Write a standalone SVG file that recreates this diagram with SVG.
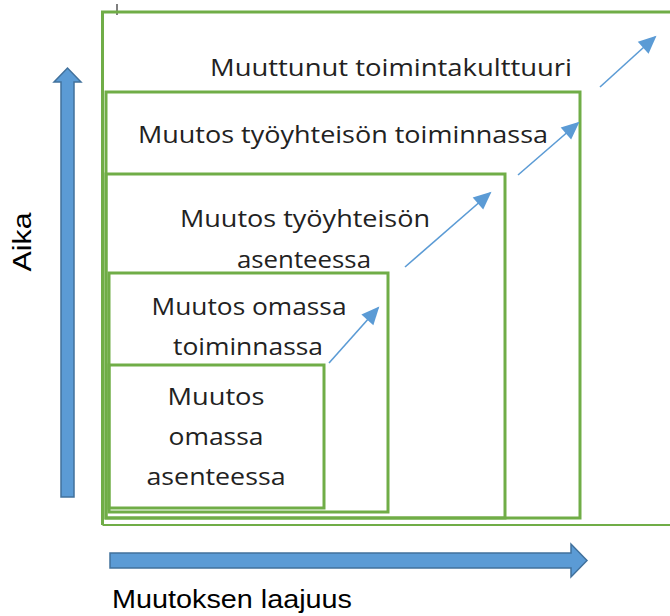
<svg xmlns="http://www.w3.org/2000/svg" width="670" height="616" viewBox="0 0 670 616">
<defs>
<style>
.box{fill:none;stroke:#70AD47;stroke-width:3}
.lbl{font-family:"Open Sans","Liberation Sans",sans-serif;font-size:23px;fill:#222;text-anchor:middle}
.ax{font-family:"Liberation Sans",Arial,sans-serif;font-size:25px;fill:#000;text-anchor:middle}
.big{fill:#5B9BD5;stroke:#41719C;stroke-width:1.5}
.conn{stroke:#5B9BD5;stroke-width:1.6;fill:none;marker-end:url(#ah)}
</style>
<marker id="ah" viewBox="0 0 10 10" refX="9" refY="5" markerWidth="10" markerHeight="10" markerUnits="userSpaceOnUse" orient="auto" overflow="visible">
<path d="M-7,-3 L11,5 L-7,13 Z" fill="#5B9BD5"/>
</marker>
</defs>
<rect width="670" height="616" fill="#fff"/>
<line x1="117" y1="4" x2="117" y2="15" stroke="#555" stroke-width="1.5"/>
<g id="outer">
<path d="M670,12 H102.5 V525" fill="none" stroke="#70AD47" stroke-width="3"/>
<path d="M102.5,525 H670" fill="none" stroke="#70AD47" stroke-width="1.8"/>
<text class="lbl" x="391" y="76" textLength="362" lengthAdjust="spacingAndGlyphs">Muuttunut toimintakulttuuri</text>
</g>
<g id="box2">
<rect class="box" x="106" y="92" width="474" height="426"/>
<text class="lbl" x="343" y="143" textLength="410" lengthAdjust="spacingAndGlyphs">Muutos työyhteisön toiminnassa</text>
</g>
<g id="box3">
<rect class="box" x="106" y="174" width="399" height="344"/>
<text class="lbl" x="305" y="227" textLength="250" lengthAdjust="spacingAndGlyphs">Muutos työyhteisön</text>
<text class="lbl" x="304" y="268" textLength="134" lengthAdjust="spacingAndGlyphs">asenteessa</text>
</g>
<g id="box4">
<rect class="box" x="109" y="273" width="279" height="239"/>
<text class="lbl" x="249" y="315" textLength="195" lengthAdjust="spacingAndGlyphs">Muutos omassa</text>
<text class="lbl" x="248" y="355" textLength="150" lengthAdjust="spacingAndGlyphs">toiminnassa</text>
</g>
<g id="box5">
<rect class="box" x="109" y="365" width="215" height="143"/>
<text class="lbl" x="216" y="405" textLength="97" lengthAdjust="spacingAndGlyphs">Muutos</text>
<text class="lbl" x="216" y="445" textLength="95" lengthAdjust="spacingAndGlyphs">omassa</text>
<text class="lbl" x="216" y="485" textLength="139" lengthAdjust="spacingAndGlyphs">asenteessa</text>
</g>
<g id="axis-y">
<polygon class="big" points="61,497 61,82 54,82 67.5,68 81,82 74,82 74,497"/>
<text class="ax" transform="translate(31,242) rotate(-90)" textLength="59" lengthAdjust="spacingAndGlyphs">Aika</text>
</g>
<g id="axis-x">
<polygon class="big" points="110,553 571,553 571,544 587,560.5 571,577 571,568 110,568"/>
<text class="ax" x="232" y="608" textLength="240" lengthAdjust="spacingAndGlyphs">Muutoksen laajuus</text>
</g>
<g id="connectors">
<line class="conn" x1="600" y1="87" x2="655" y2="37"/>
<line class="conn" x1="518" y1="175" x2="578" y2="123"/>
<line class="conn" x1="405" y1="267" x2="490" y2="193"/>
<line class="conn" x1="329" y1="363" x2="378" y2="308"/>
</g>
</svg>
